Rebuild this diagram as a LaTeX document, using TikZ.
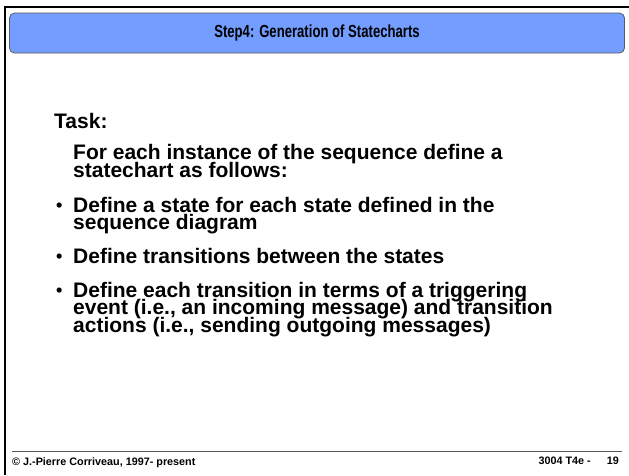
\documentclass[tikz,border=0pt]{standalone}
\usepackage{fontspec}
\setmainfont{Liberation Sans}
\newfontfamily\titlefont[FakeStretch=0.75]{Liberation Sans}
\definecolor{titleblue}{RGB}{115,158,255}
\definecolor{rulegray}{RGB}{90,90,90}
\begin{document}
\begin{tikzpicture}[x=1pt,y=-1pt,
  txt/.style={inner sep=0pt,anchor=base west,font=\fontsize{21}{18}\selectfont\bfseries},
  bul/.style={inner sep=0pt,anchor=base west,font=\fontsize{18}{18}\selectfont\bfseries},
  foot/.style={inner sep=0pt,font=\fontsize{10.8}{12}\selectfont\bfseries}]
\useasboundingbox (0,0) rectangle (629,475);
\fill[white] (0,0) rectangle (629,475);
% frame
\draw[line width=2pt] (5,475) -- (5,7) -- (629,7);
% title box
\node[draw=rulegray,fill=titleblue,rounded corners=5pt,line width=0.8pt,
      minimum width=615pt,minimum height=40pt,inner sep=0pt] (title) at (317,33)
      {\titlefont\bfseries\fontsize{17.5}{20}\selectfont Step4: Generation of Statecharts};
% body
\node[txt] (task) at (54,128) {Task:};
\node[txt] (p1) at (73,159) {For each instance of the sequence define a};
\node[txt] (p2) at (73,177) {statechart as follows:};
\node[bul] (b1) at (56,211) {\textbullet};
\node[txt] (l1) at (73,212) {Define a state for each state defined in the};
\node[txt] (l2) at (73,229.5) {sequence diagram};
\node[bul] (b2) at (56,262) {\textbullet};
\node[txt] (l3) at (73,263) {Define transitions between the states};
\node[bul] (b3) at (56,296) {\textbullet};
\node[txt] (l4) at (73,297) {Define each transition in terms of a triggering};
\node[txt] (l5) at (73,314.5) {event (i.e., an incoming message) and transition};
\node[txt] (l6) at (73,332) {actions (i.e., sending outgoing messages)};
% footer
\coordinate (fl) at (12,451);
\coordinate (fr) at (622,451);
\draw[rulegray,line width=0.8pt] (fl) -- (fr);
\node[foot,anchor=base west] (copy) at (12,465) {© J.-Pierre Corriveau, 1997- present};
\node[foot,anchor=base east] (page) at (619,464) {3004 T4e -\hspace{16pt}19};
\end{tikzpicture}
\end{document}
